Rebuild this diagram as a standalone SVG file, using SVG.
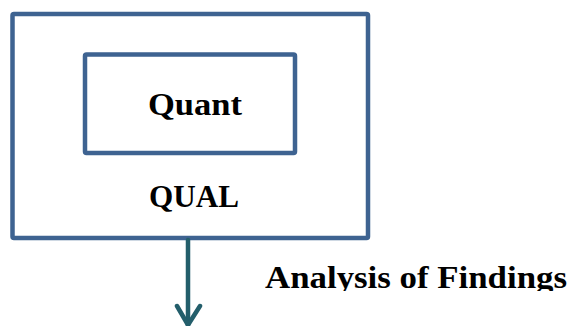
<svg xmlns="http://www.w3.org/2000/svg" width="571" height="326" viewBox="0 0 571 326">
  <style>
    .box { fill: #ffffff; stroke: #3e6391; stroke-width: 4.5; stroke-linejoin: round; }
    .label { font-family: "Liberation Serif", "DejaVu Serif", serif; font-weight: bold; font-size: 32px; fill: #000000; }
    .flow { fill: none; stroke: #235e6b; stroke-width: 4.5; stroke-linecap: round; stroke-linejoin: round; }
  </style>
  <defs>
    <clipPath id="caption-clip">
      <rect x="0" y="240" width="571" height="51"/>
    </clipPath>
  </defs>
  <rect width="571" height="326" fill="#ffffff"/>

  <g id="qual">
    <rect class="box" x="12.5" y="14" width="355.5" height="224" rx="1.5"/>
    <text class="label" x="194" y="207" text-anchor="middle" textLength="90" lengthAdjust="spacingAndGlyphs">QUAL</text>
  </g>

  <g id="quant">
    <rect class="box" x="85" y="54.5" width="210" height="98.5" rx="1.5"/>
    <text class="label" x="195" y="115" text-anchor="middle" textLength="94" lengthAdjust="spacingAndGlyphs">Quant</text>
  </g>

  <g id="connectors">
    <line class="flow" x1="188" y1="240" x2="188" y2="325"/>
    <polyline class="flow" points="177,306 188,325 200,306"/>
  </g>

  <g id="analysis">
    <text class="label" x="265" y="288" textLength="302" lengthAdjust="spacingAndGlyphs" clip-path="url(#caption-clip)">Analysis of Findings</text>
  </g>
</svg>
